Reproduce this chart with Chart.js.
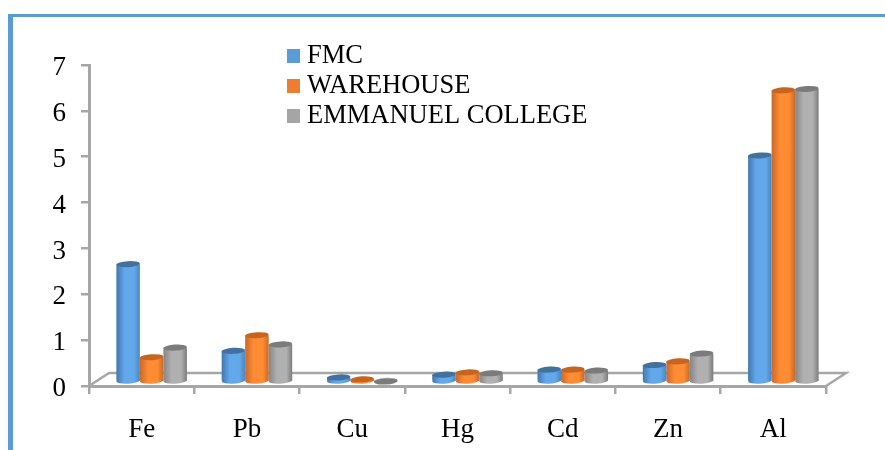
<!DOCTYPE html>
<html>
<head>
<meta charset="utf-8">
<script src="https://cdn.jsdelivr.net/npm/chart.js@4"></script>
<style>
    html, body { margin: 0; padding: 0; background: #fff; width: 885px; height: 450px; overflow: hidden; }
    #frame { position: absolute; left: 8px; top: 14px; right: 0; bottom: 0; border-left: 5px solid #5b9bd5; border-top: 3px solid #5b9bd5; }
    #chart { position: absolute; left: 0; top: 0; }
</style>
</head>
<body>
<div id="frame"></div>
<canvas id="chart" width="885" height="450"></canvas>
<script>
const categories = ['Fe', 'Pb', 'Cu', 'Hg', 'Cd', 'Zn', 'Al'];
const fmc = [2.57, 0.68, 0.1, 0.16, 0.27, 0.37, 4.94];
const warehouse = [0.54, 1.02, 0.06, 0.21, 0.27, 0.45, 6.36];
const emmanuelCollege = [0.75, 0.82, 0.01, 0.19, 0.25, 0.62, 6.39];

const serif = '"Liberation Serif", serif';
const axisGrey = '#a6a6a6';
const catPercent = 0.67;
const legendColors = ['#5b9bd5', '#ed7d31', '#a5a5a5'];

// left / middle / right shade of each cylinder, then the colour of its top
const shades = [
    ['#4178b0', '#63a8ea', '#4a86c2', '#41719c'],
    ['#c9682a', '#ff8b33', '#c56a2b', '#c5651f'],
    ['#858585', '#b0b0b0', '#7c7c7c', '#7b7b7b']
];

function cylinderFill(context) {
    const chart = context.chart;
    const xScale = chart.scales.x;
    const color = shades[context.datasetIndex];
    if (!xScale) return color[1];
    const barWidth = (xScale.width / categories.length) * catPercent / 3;
    const left = xScale.getPixelForValue(context.dataIndex) + (context.datasetIndex - 1.5) * barWidth;
    const grad = chart.ctx.createLinearGradient(left, 0, left + barWidth, 0);
    grad.addColorStop(0, color[0]);
    grad.addColorStop(0.35, color[1]);
    grad.addColorStop(0.75, color[1]);
    grad.addColorStop(1, color[2]);
    return grad;
}

// the legend puts its text half a font size after the box, the reference sits closer
function legendSwatch(color) {
    const swatch = document.createElement('canvas');
    swatch.width = 13;
    swatch.height = 14;
    const c = swatch.getContext('2d');
    c.fillStyle = color;
    c.fillRect(0, 0, 13, 14);
    return swatch;
}

// 3D look: the floor behind the bars, bars pushed back onto it, round ends
const cylinders = {
    id: 'cylinders',
    afterLayout(chart) {
        const legend = chart.legend;
        legend.left = 289.75;
        legend.top = 39.5;
        legend.width = 320;
        legend.height = 100;
        legend.right = legend.left + legend.width;
        legend.bottom = legend.top + legend.height;
        // swatches start left of legend.left, so skip the legend's own clip
        legend.draw = () => legend._draw();
    },
    beforeDatasetsDraw(chart) {
        const ctx = chart.ctx;
        const { left, right } = chart.chartArea;
        const y0 = chart.scales.y.getPixelForValue(0);
        ctx.save();
        ctx.strokeStyle = axisGrey;
        ctx.lineWidth = 2.5;
        ctx.beginPath();
        ctx.moveTo(left, y0);
        ctx.lineTo(left + 20, y0 - 13);
        ctx.lineTo(right + 20, y0 - 13);
        ctx.lineTo(right, y0);
        ctx.stroke();
        ctx.restore();
        ctx.save();
        ctx.translate(10, -4);
    },
    afterDatasetDraw(chart, args) {
        const ctx = chart.ctx;
        const color = shades[args.index];
        args.meta.data.forEach(bar => {
            const rx = bar.width / 2;
            ctx.fillStyle = bar.options.backgroundColor;
            ctx.beginPath();
            ctx.ellipse(bar.x, bar.base, rx, 3, -0.06, 0, Math.PI * 2);
            ctx.fill();
            ctx.fillStyle = color[3];
            ctx.beginPath();
            ctx.ellipse(bar.x, bar.y, rx, 3, -0.06, 0, Math.PI * 2);
            ctx.fill();
        });
    },
    afterDatasetsDraw(chart) {
        chart.ctx.restore();
    }
};

new Chart(document.getElementById('chart'), {
    type: 'bar',
    data: {
        labels: categories,
        datasets: [
            { label: 'FMC', data: fmc, backgroundColor: cylinderFill },
            { label: 'WAREHOUSE', data: warehouse, backgroundColor: cylinderFill },
            { label: 'EMMANUEL COLLEGE', data: emmanuelCollege, backgroundColor: cylinderFill }
        ]
    },
    options: {
        responsive: false,
        animation: false,
        categoryPercentage: catPercent,
        barPercentage: 1,
        layout: { padding: { top: 65, right: 59 } },
        scales: {
            x: {
                afterFit: scale => { scale.height = 64; },
                grid: { drawOnChartArea: false, tickLength: 8, color: axisGrey, lineWidth: 2.5 },
                border: { color: axisGrey, width: 3 },
                ticks: { color: '#000', font: { family: serif, size: 27 }, padding: 20, maxRotation: 0 }
            },
            y: {
                min: 0,
                max: 7,
                afterFit: scale => { scale.width = 89; },
                grid: { drawOnChartArea: false, tickLength: 8, color: axisGrey, lineWidth: 2.5 },
                border: { color: axisGrey, width: 3 },
                ticks: { stepSize: 1, color: '#000', font: { family: serif, size: 27 }, padding: 15, labelOffset: 3 }
            }
        },
        plugins: {
            tooltip: { enabled: false },
            legend: {
                position: 'chartArea',
                align: 'start',
                labels: {
                    usePointStyle: true,
                    boxWidth: 0.5,
                    padding: 3.5,
                    color: '#000',
                    font: { family: serif, size: 26.5 },
                    generateLabels: chart => chart.data.datasets.map((d, i) => ({
                        text: d.label,
                        fillStyle: legendColors[i],
                        pointStyle: legendSwatch(legendColors[i]),
                        strokeStyle: 'transparent',
                        lineWidth: 0,
                        datasetIndex: i
                    }))
                }
            }
        }
    },
    plugins: [cylinders]
});
</script>
</body>
</html>
